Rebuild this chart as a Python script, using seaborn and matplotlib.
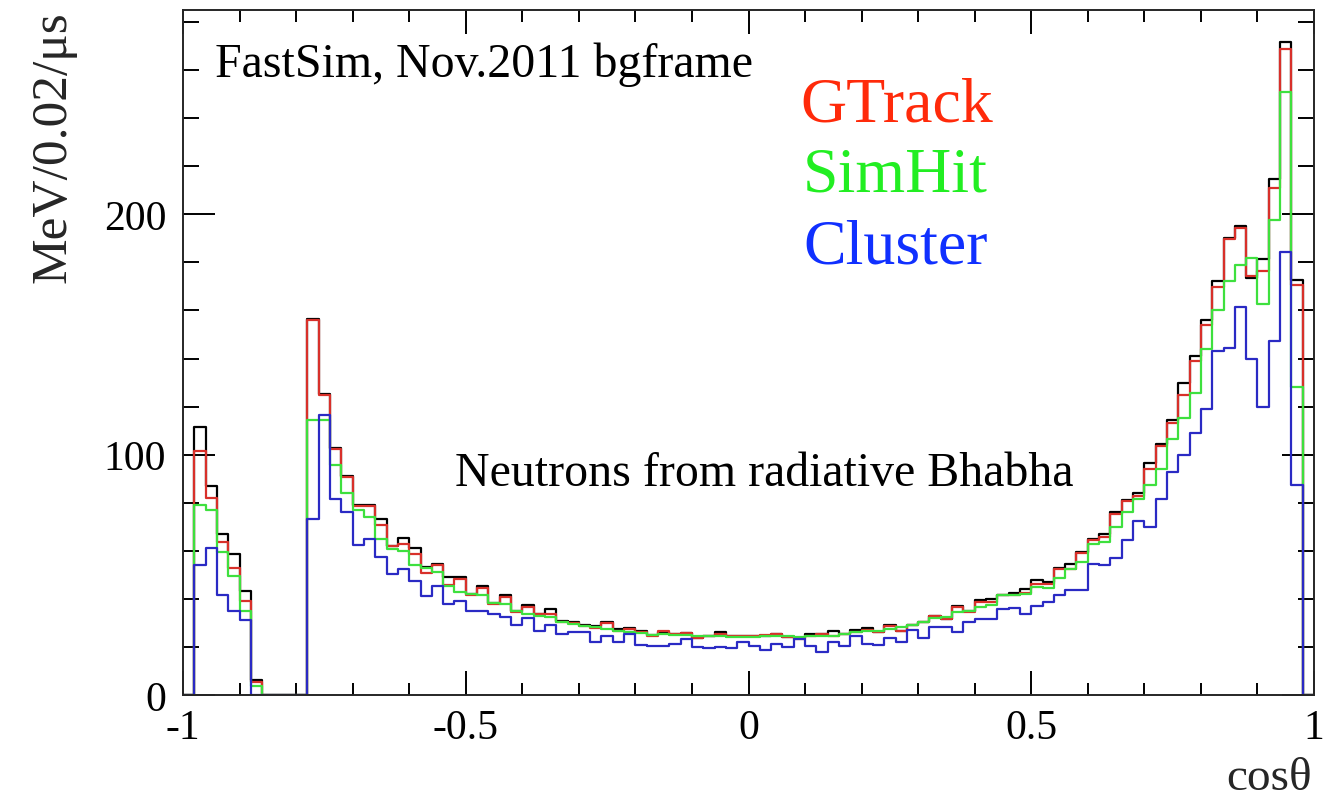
import numpy as np
import pandas as pd
import matplotlib
matplotlib.use("Agg")
import matplotlib.pyplot as plt
from matplotlib.ticker import MultipleLocator
import seaborn as sns

# ---------------- data (100 bins of width 0.02 in cos(theta)) ----------------
n_bins = 100
x_range = (-1.0, 1.0)

total = [0, 111.5, 87, 67, 58.8, 43.2, 6.3, 0, 0, 0, 0,
         156.4, 125.4, 102.8, 91.1, 79.2, 79.2, 73.3, 62.2, 65.3, 61.1,
         53.2, 54.6, 49, 49, 42, 45.3, 38.3, 41.7, 35.1, 37.5,
         33.8, 35.8, 30.6, 30.3, 29.2, 28.6, 30.3, 27.5, 27.8, 26.8,
         25, 26.4, 25.4, 25.8, 23.9, 24.7, 26.1, 24.4, 24.4, 24.4,
         24.7, 25.3, 24.2, 23.6, 25.4, 25.4, 26.8, 25.4, 27.2, 27.8,
         26.4, 29.2, 26.8, 29.2, 30.3, 33, 31.7, 37.2, 35.1, 39.7,
         40, 41.7, 42.5, 44, 48, 47, 53, 54.6, 59.4, 64.8,
         67, 76, 81, 84, 96.5, 104.4, 114.3, 130, 141, 156,
         172.2, 190.3, 195.3, 173.6, 181.4, 214.7, 271.7, 172.6, 0]

gtrack = [0, 101.5, 82, 63.6, 53, 39.3, 5.3, 0, 0, 0, 0,
          156, 124.7, 102.2, 90.7, 78.6, 78.6, 70.8, 62, 63, 58.8,
          50.8, 54.2, 45.8, 48.3, 41.7, 44.4, 37.9, 40.7, 34.4, 36.5,
          33.5, 33.8, 30.3, 30, 28.9, 27.8, 30, 26.8, 27.5, 26.4,
          24.7, 26.7, 25.4, 25.8, 23.9, 24.7, 25.4, 24.4, 24.4, 24.4,
          25, 25.3, 24.2, 23.1, 24.7, 25.4, 24.7, 25.4, 26.4, 27.2,
          26.1, 28.6, 26.8, 29.2, 30.3, 33, 31.7, 36.5, 34.4, 38.9,
          38.9, 41.7, 41.5, 42.5, 46, 46, 52.5, 52.5, 59.2, 64.5,
          65.8, 75.4, 80.6, 83, 94, 103.8, 113.2, 125, 139, 154,
          169.9, 189.7, 194.4, 174.4, 176.4, 210.8, 268.9, 170.6, 0]

simhit = [0, 79, 77, 59.7, 49.7, 35, 3.9, 0, 0, 0, 0,
          114.3, 114.3, 95.6, 84.2, 76.8, 74, 65, 60.8, 60.1, 53.9,
          52.8, 51.1, 45.3, 43, 42, 41.4, 38.3, 37.9, 35.1, 33.8,
          33, 32.4, 30.3, 29.6, 28.6, 28.2, 27.5, 26.8, 26.4, 25.8,
          25, 25.4, 25, 25, 24.4, 24.4, 24.4, 24, 24, 24,
          24.4, 24.4, 24.4, 24, 24.4, 24.7, 24.7, 25.4, 26.1, 26.8,
          26.8, 27.5, 28.2, 29.2, 30.3, 31.9, 32.4, 34.4, 35.1, 36.5,
          37.5, 41.4, 41.5, 42, 45, 44.5, 48.5, 52.3, 55.3, 63,
          63.6, 70, 76.1, 81.7, 87.5, 94.2, 106.4, 115.2, 125.5, 144,
          160.1, 172.2, 178.9, 181.9, 162.5, 197.6, 250.8, 128.2, 0]

cluster = [0, 54, 61, 41.4, 35, 31, 0, 0, 0, 0, 0,
           73.3, 116.7, 81.7, 76.1, 62.6, 64.7, 57.4, 50.4, 52.5, 47.6,
           41, 45.3, 37.9, 39.3, 34.9, 35.1, 33.8, 32.4, 29.2, 31.9,
           26.8, 29.2, 25.4, 26.1, 26.1, 21.9, 24.4, 21.9, 25.4, 20.8,
           20.3, 20.3, 21.3, 23.1, 19.9, 19.4, 19.9, 19.4, 21.9, 20.3,
           18.8, 21.3, 19.9, 23.1, 20.3, 17.8, 21.9, 20.3, 24.7, 21.3,
           20.6, 23.6, 21.9, 27.2, 23.6, 28.2, 28.2, 26.1, 30.3, 31.7,
           31.7, 35.8, 36, 33.5, 37, 38.5, 41.7, 43.5, 43.8, 54.6,
           53.9, 56.9, 64.3, 72.6, 69.9, 81.7, 92.8, 99.7, 108.8, 119,
           143, 144.4, 161.5, 139.7, 119.9, 147.2, 184.4, 87.2, 0]

series_names = ["Total", "GTrack", "SimHit", "Cluster"]
series_values = [total, gtrack, simhit, cluster]
line_colors = ["#000000", "#d8302a", "#3ee03e", "#2a2ac4"]
label_colors = {"GTrack": "#ff2a0a", "SimHit": "#22ee22", "Cluster": "#1030ff"}

x_ticks_major = [-1, -0.5, 0, 0.5, 1]
x_tick_labels = ["-1", "-0.5", "0", "0.5", "1"]
y_ticks_major = [0, 100, 200]
y_tick_labels = ["0", "100", "200"]

# ---------------- figure ----------------
sns.set_style("ticks")
plt.rcParams["font.family"] = ["Liberation Serif", "DejaVu Serif"]

fig = plt.figure(figsize=(13.37, 8.03), dpi=100)
ax = fig.add_axes([183 / 1337, 1 - 696 / 803, (1314 - 183) / 1337, (696 - 11) / 803])

edges = np.linspace(x_range[0], x_range[1], n_bins + 1)
centers = 0.5 * (edges[:-1] + edges[1:])
for name, vals, col in zip(series_names, series_values, line_colors):
    df = pd.DataFrame({"cos": centers, "w": np.asarray(vals, dtype=float)})
    sns.histplot(data=df, x="cos", weights="w", bins=n_bins, binrange=x_range,
                 element="step", fill=False, color=col, linewidth=1.6,
                 ax=ax)

ax.set_xlim(-1, 1)
ax.set_ylim(0, 285)

ax.set_xticks(x_ticks_major)
ax.set_xticklabels(x_tick_labels)
ax.set_yticks(y_ticks_major)
ax.set_yticklabels(y_tick_labels)
ax.xaxis.set_minor_locator(MultipleLocator(0.1))
ax.yaxis.set_minor_locator(MultipleLocator(20))

ax.tick_params(axis="both", which="both", direction="in", top=True, right=True,
               width=1.4, colors="black", labelsize=30)
ax.tick_params(axis="x", which="major", length=17, pad=10)
ax.tick_params(axis="x", which="minor", length=8.5)
ax.tick_params(axis="y", which="major", length=23, pad=12)
ax.tick_params(axis="y", which="minor", length=11.5)
for sp in ax.spines.values():
    sp.set_linewidth(1.4)
    sp.set_visible(True)

def fx(px):
    return (px - 183) / 1131

def fy(py):
    return (696 - py) / 685

ax.set_xlabel("cosθ", fontsize=34)
ax.xaxis.set_label_coords(fx(1312), fy(790))
ax.xaxis.label.set_ha("right")
ax.xaxis.label.set_va("baseline")

ax.set_ylabel("MeV/0.02/μs", fontsize=37, loc="top", labelpad=20)

ax.text(fx(215), fy(77), "FastSim, Nov.2011 bgframe", transform=ax.transAxes,
        fontsize=34.5, color="black", ha="left", va="baseline")
ax.text(fx(800), fy(121), "GTrack", transform=ax.transAxes,
        fontsize=46, color=label_colors["GTrack"], ha="left", va="baseline")
ax.text(fx(803), fy(192), "SimHit", transform=ax.transAxes,
        fontsize=46, color=label_colors["SimHit"], ha="left", va="baseline")
ax.text(fx(803), fy(263), "Cluster", transform=ax.transAxes,
        fontsize=46, color=label_colors["Cluster"], ha="left", va="baseline")
ax.text(fx(455), fy(486), "Neutrons from radiative Bhabha", transform=ax.transAxes,
        fontsize=34.5, color="black", ha="left", va="baseline")

fig.savefig("out.png", dpi=100)
